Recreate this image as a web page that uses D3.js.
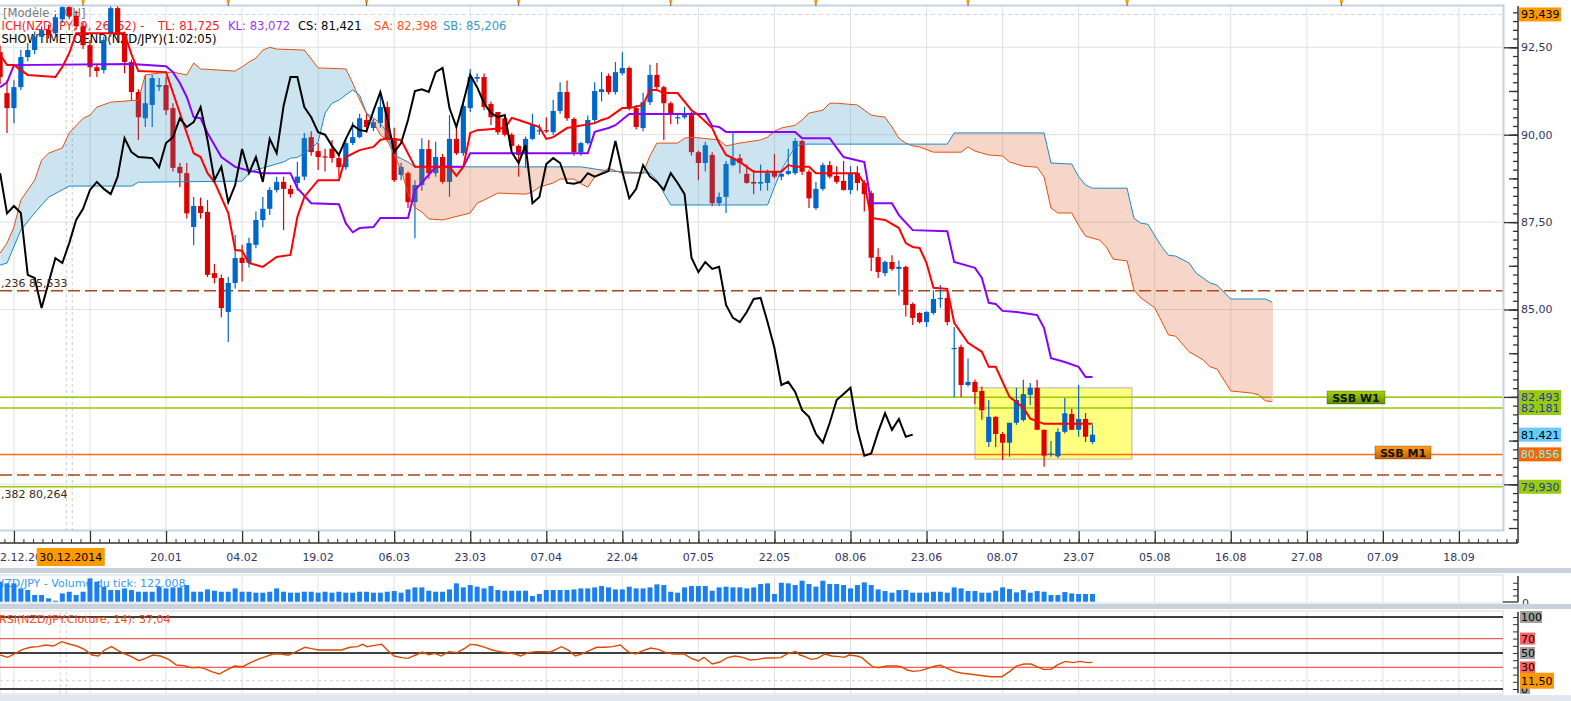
<!DOCTYPE html>
<html><head><meta charset="utf-8">
<script src="https://cdn.jsdelivr.net/npm/d3@7"></script>
<style>body{margin:0;background:#fff}svg{display:block;font-family:"DejaVu Sans",sans-serif;font-size:11px}</style>
</head><body><svg id="c" width="1571" height="701"></svg>
<script>
// ---------- DATA ----------
const open = [92.36,91.19,90.76,91.36,92.22,92.42,92.8,93.0,92.9,93.3, 93.65,93.4,93.1,92.56,91.93,91.85,92.91,93.62,92.85,92.08, 91.22,90.47,90.85,91.37,91.42,90.76,89.08,88.9,87.36,87.96, 87.79,86.04,85.9,84.93,85.76,86.48,86.33,86.85,87.56,87.88, 88.42,88.65,88.45,88.62,88.8,89.93,89.53,89.38,89.6,89.33, 89.07,89.76,89.93,90.42,90.19,90.33,90.79,89.9,88.85,88.9, 88.07,88.56,89.59,88.9,89.36,88.65,89.88,89.47,90.76,91.6, 91.65,90.88,90.65,90.47,90.0,89.68,89.47,89.88,90.1,90.13, 90.07,90.68,91.22,90.45,89.5,89.76,90.42,91.22,91.68,91.22, 91.76,91.91,90.76,90.19,90.93,91.71,91.36,90.9,90.47,90.5, 90.56,89.5,89.19,89.42,88.04,88.22,89.13,89.33,88.88,88.65, 88.6,88.62,88.94,88.8,88.88,88.9,89.82,88.94,87.9,88.45, 89.13,88.82,88.68,88.42,88.9,88.62,88.33,86.5,86.04,86.36, 86.16,86.22,85.16,84.9,84.64,84.9,85.3,85.33,83.87,83.93, 82.84,82.93,82.67,81.21,81.93,81.44,81.19,81.76,81.84,82.56, 82.76,81.56,80.85,80.8,81.5,82.01,81.56,81.87,81.21];
const high = [92.55,91.56,91.56,92.42,92.62,92.95,93.1,93.15,93.45,93.75, 93.75,93.55,93.2,92.71,92.0,92.8,93.7,93.75,92.95,92.15, 91.3,91.7,91.71,91.62,91.65,90.9,89.2,89.19,88.22,88.2, 88.13,86.3,86.0,85.93,87.13,86.85,87.05,87.8,88.22,88.5, 88.8,88.8,88.56,89.22,90.05,90.1,89.76,89.6,89.85,89.45, 89.85,90.36,90.6,90.6,90.45,91.19,90.95,90.2,89.2,88.95, 88.7,89.9,89.85,89.8,89.45,90.56,90.3,90.99,91.88,91.75, 91.75,90.95,90.65,90.5,90.05,89.72,89.95,90.6,90.3,90.5, 91.0,91.5,91.55,90.5,89.8,90.55,91.5,91.79,91.75,92.08, 92.36,91.95,90.85,91.2,92.0,92.05,91.4,90.95,90.62,90.8, 90.65,89.55,89.8,89.5,88.35,89.25,90.05,89.45,89.15,89.0, 89.15,89.0,89.45,88.9,89.6,89.9,89.85,89.0,88.65,89.2, 89.25,89.1,89.25,89.1,89.1,88.7,88.4,86.75,86.4,86.55, 86.4,86.25,85.2,84.92,84.95,85.55,85.7,85.6,84.5,84.0, 83.6,83.0,82.8,82.41,81.95,81.5,81.76,82.76,82.99,82.9, 82.99,81.56,81.24,81.6,82.47,82.16,82.84,82.04,81.7];
const low = [91.45,90.05,90.33,91.28,92.1,92.3,92.7,92.75,92.8,93.2, 93.3,93.0,92.45,91.65,91.65,91.75,92.8,92.7,91.76,90.99, 89.85,90.22,90.22,91.25,90.56,88.95,88.5,87.6,86.84,87.6, 85.93,85.75,84.78,84.07,85.6,85.8,86.2,86.75,87.35,87.7, 88.35,87.27,88.2,88.4,88.7,89.4,88.99,88.95,89.2,88.8, 89.0,89.7,89.9,90.05,90.1,90.2,89.8,88.65,88.7,87.9, 87.04,88.4,88.75,88.8,88.6,88.22,89.42,89.4,90.65,91.5, 90.7,90.28,90.0,89.95,89.6,88.8,89.05,89.85,90.0,90.05, 90.0,90.6,90.4,89.4,89.4,89.72,90.3,90.95,91.15,91.15, 91.7,90.7,90.15,90.1,90.85,91.3,89.85,90.3,90.3,90.45, 89.4,88.7,88.95,87.95,87.95,87.76,89.1,88.9,88.6,88.3, 88.4,88.4,88.75,88.7,88.85,88.85,88.85,87.9,87.85,88.4, 88.75,88.6,88.4,88.3,88.4,87.8,86.1,85.9,85.95,86.1, 85.4,84.8,84.56,84.6,84.5,84.85,85.05,84.55,82.5,82.5, 82.8,82.3,81.85,81.07,81.07,80.69,80.79,81.7,81.8,82.27, 81.56,80.5,80.79,80.75,81.45,81.56,81.36,81.21,81.15];
const close = [91.65,90.76,91.36,92.22,92.42,92.8,92.99,92.85,93.36,93.65, 93.4,93.1,92.56,91.93,91.82,92.71,93.62,92.85,92.08,91.22, 90.5,90.9,91.62,91.42,90.7,89.05,88.9,87.75,87.96,87.76, 85.99,85.9,85.04,85.76,86.47,86.33,86.9,87.56,87.88,88.42, 88.65,88.45,88.3,88.8,89.9,89.5,89.36,89.35,89.33,89.07, 89.76,89.93,90.47,90.22,90.36,90.79,89.85,88.7,89.08,88.07, 88.56,89.59,88.9,89.36,88.65,89.88,89.47,90.82,91.65,91.65, 90.79,90.5,90.07,90.0,89.68,89.42,89.88,90.27,90.13,90.1, 90.68,91.22,90.47,89.5,89.76,90.42,91.25,91.3,91.22,91.79, 91.91,90.76,90.22,90.93,91.71,91.36,90.9,90.62,90.5,90.56, 89.5,89.19,89.7,88.04,88.22,89.16,89.33,89.19,88.62,88.6, 88.65,88.9,88.8,88.88,88.96,89.82,88.94,88.18,88.45,89.13, 88.8,88.65,88.42,88.9,88.62,88.3,86.48,86.07,86.36,86.16, 86.22,85.13,84.76,84.64,84.93,85.3,85.33,84.64,83.9,82.84, 82.93,82.64,82.12,81.93,81.44,81.19,81.76,82.41,82.58,82.76, 81.56,80.82,80.88,81.5,82.03,81.56,81.87,81.36,81.42];

// Ichimoku lines as [bar, price] vertices
const tenkan = [[0,92.3],[1,91.99],[2,91.99],[4,91.71],[8,91.65],[9,91.94],[10,92.33],[11,92.9],[18,92.9],[19,92.3],[20,91.82],[24,91.79],[26,90.62],[28,89.47],[29,89.36],[30,88.9],[31,88.65],[33,87.76],[34,86.7],[35,86.68],[36,86.33],[38,86.22],[40,86.5],[42,86.56],[43,87.65],[44,88.22],[46,88.7],[49,88.7],[50,89.36],[52,89.56],[54,89.65],[55,89.85],[56,89.9],[58,89.85],[60,89.08],[65,89.08],[66,88.82],[67,89.08],[68,90.05],[69,90.13],[73,90.19],[74,90.48],[75,90.42],[78,90.22],[79,89.88],[80,89.93],[82,90.19],[86,90.33],[87,90.42],[88,90.48],[90,90.76],[91,90.76],[93,90.85],[94,91.28],[95,91.28],[96,91.19],[98,91.19],[100,90.7],[101,90.56],[103,90.19],[104,89.76],[105,89.42],[106,89.33],[107,89.22],[108,89.08],[109,88.94],[113,88.94],[114,89.13],[115,89.08],[117,89.08],[118,88.9],[124,88.9],[125,88.6],[126,87.62],[128,87.56],[130,87.33],[131,86.9],[132,86.79],[133,86.76],[134,86.33],[135,85.62],[137,85.59],[138,84.62],[140,84.05],[142,83.79],[143,83.36],[144,83.36],[146,82.5],[148,82.19],[149,81.88],[151,81.73],[158,81.73]];
const kijun = [[0,91.36],[1,91.5],[2,91.99],[19,92.02],[24,91.96],[25,91.79],[26,91.48],[27,91.08],[28,90.5],[29,90.47],[30,90.05],[32,89.36],[34,89.08],[36,88.97],[38,88.9],[42,88.9],[43,88.47],[45,88.04],[49,88.01],[50,87.47],[51,87.21],[52,87.33],[54,87.36],[55,87.62],[59,87.62],[60,88.42],[61,88.62],[63,89.08],[67,89.08],[68,89.47],[85,89.47],[86,90.08],[88,90.19],[89,90.27],[91,90.59],[102,90.59],[103,90.25],[104,90.22],[105,90.08],[115,90.08],[116,89.9],[120,89.9],[121,89.62],[122,89.36],[125,89.22],[126,88.04],[129,88.04],[130,87.7],[132,87.27],[137,87.24],[138,86.36],[141,86.19],[142,85.9],[143,85.19],[144,85.16],[145,84.96],[147,84.93],[149,84.87],[150,84.84],[151,84.47],[152,83.61],[154,83.5],[156,83.36],[157,83.07],[158,83.07]];
const ssa = [[0,86.61],[1,86.9],[2,87.36],[3,88.13],[5,88.7],[6,89.27],[7,89.47],[9,89.62],[10,90.05],[12,90.47],[13,90.56],[14,90.79],[16,90.93],[20,90.99],[21,91.71],[23,91.76],[25,91.79],[27,91.71],[28,92.05],[29,91.88],[34,91.82],[35,91.94],[36,92.08],[37,92.19],[38,92.42],[39,92.5],[40,92.45],[44,92.42],[46,91.91],[50,91.88],[51,91.48],[52,91.0],[53,90.6],[54,90.36],[55,89.99],[56,89.85],[57,89.42],[58,88.99],[59,88.33],[60,87.91],[61,87.79],[62,87.59],[64,87.56],[68,87.76],[69,88.04],[70,88.13],[72,88.33],[76,88.3],[77,88.36],[78,88.5],[80,88.62],[81,88.73],[83,88.73],[84,88.6],[85,88.5],[86,88.79],[88,89.04],[90,88.9],[93,88.9],[94,89.4],[95,89.76],[98,89.76],[99,89.9],[100,89.93],[104,89.85],[105,89.68],[107,89.76],[110,89.85],[111,89.93],[112,90.1],[113,90.19],[115,90.27],[116,90.42],[117,90.62],[119,90.7],[120,90.9],[121,90.9],[124,90.85],[126,90.56],[128,90.5],[129,90.22],[130,89.9],[131,89.76],[132,89.68],[133,89.65],[135,89.5],[139,89.5],[140,89.65],[141,89.53],[143,89.42],[145,89.39],[146,89.22],[148,89.1],[150,89.07],[151,88.79],[152,87.9],[153,87.76],[155,87.76],[156,87.4],[157,87.1],[158,87.04],[159,86.99],[160,86.79],[161,86.44],[163,86.39],[164,85.56],[165,85.33],[167,85.05],[169,84.27],[170,84.24],[172,83.79],[174,83.56],[175,83.36],[176,83.3],[178,82.67],[181,82.61],[182,82.56],[183,82.39],[184,82.36]];
const ssb = [[0,86.27],[1,86.33],[3,87.27],[5,87.76],[7,88.21],[10,88.53],[19,88.53],[20,88.64],[35,88.67],[36,88.9],[37,88.99],[41,89.22],[42,89.33],[43,89.35],[45,89.6],[46,89.79],[47,90.62],[48,90.9],[49,90.99],[51,91.28],[52,91.13],[53,90.62],[55,90.33],[56,90.05],[57,89.42],[59,89.22],[60,89.08],[84,89.08],[88,88.96],[94,88.9],[95,88.7],[96,88.33],[97,87.99],[111,87.99],[112,88.5],[113,88.99],[114,89.33],[115,89.65],[116,89.73],[137,89.73],[138,90.05],[151,90.05],[152,89.19],[155,89.16],[156,88.8],[157,88.56],[158,88.47],[163,88.47],[164,87.61],[165,87.47],[166,87.44],[168,86.8],[169,86.55],[170,86.53],[172,86.33],[173,86.04],[175,85.76],[176,85.7],[177,85.5],[178,85.3],[183,85.3],[184,85.21]];

// volume (thousands of ticks) per bar
const volume = [317,291,291,211,185,106,106,53,16,132, 158,106,158,370,317,238,185,185,211,185, 158,158,158,238,211,227,227,264,158,158, 195,174,158,158,211,158,158,143,143,158, 211,158,143,143,158,158,143,158,143,158, 143,143,158,158,143,143,158,169,143,195, 227,227,174,158,158,195,291,227,264,238, 211,248,185,174,174,174,174,90,122,185, 185,185,185,195,211,211,227,248,227,195, 195,238,211,211,227,275,264,158,143,227, 248,248,248,174,227,238,227,227,211,227, 280,291,122,301,291,264, 333,280,238,333,280,280,264,211,264,306, 264,195,169,143,185,185,143,143,143,158, 158,143,227,211,169,169,143,143,174,227, 201,148,185,143,169,158,106,106,153,132, 122,122,122];

// RSI(14) vertices [bar, value]
const rsi = [[0,47.2],[1.1,44.0],[2.2,49.5],[3.3,55.1],[4.4,57.9],[5.5,58.8],[6.6,61.1],[7.7,59.7],[8.9,65.7],[10,62.5],[11.1,59.7],[12.2,55.1],[13.3,47.2],[14.2,45.8],[15.1,54.2],[16.1,58.8],[17.1,53.2],[18.1,48.6],[19,44.9],[20.1,39.4],[21,42.6],[22.1,47.2],[23.2,45.8],[24.4,41.2],[25.5,33.3],[26.6,32.4],[27.7,29.6],[28.8,30.1],[29.5,28.7],[30.6,24.1],[31.7,20.8],[32.8,26.4],[33.9,31.9],[35.1,31.0],[36.2,36.6],[37.3,41.2],[38.4,44.9],[39.5,48.6],[40.6,48.6],[41.7,46.8],[42.8,51.9],[44.1,57.9],[45,56.0],[46.1,54.2],[47.2,54.2],[48.3,54.2],[49.4,54.2],[50.6,57.9],[51.7,58.8],[52.4,62.0],[53.1,58.8],[54.2,60.6],[55.2,62.0],[56.1,53.2],[57,45.8],[58.1,43.5],[59,42.6],[60.1,47.2],[61.1,51.4],[62,47.7],[62.9,49.5],[63.8,45.8],[64.9,51.9],[66.1,50.5],[67.2,56.5],[68,62.0],[69,61.1],[70.1,57.9],[71.2,54.2],[72.3,51.9],[73.4,50.5],[74.5,48.6],[75.3,45.8],[76.4,50.5],[77.5,51.9],[78.6,51.9],[79.6,51.4],[80.4,55.1],[81.2,58.8],[82.3,53.2],[83.2,45.8],[84.1,48.6],[85.2,53.2],[86.3,57.9],[87.5,57.9],[88.6,58.8],[89.7,61.1],[90.8,51.9],[91.9,48.6],[93,53.2],[94.1,56.9],[95.2,55.1],[96.3,50.5],[97.4,48.6],[98.9,48.6],[100,42.6],[101,38.9],[101.8,44.0],[103,34.7],[104.1,37.5],[105.2,43.5],[106.3,45.8],[107.4,44.0],[108.5,40.3],[109.6,41.2],[110.7,43.1],[111.8,43.1],[112.9,43.5],[114,49.5],[115.1,51.9],[115.7,47.2],[116.4,44.9],[117.3,41.2],[118.2,42.6],[119.3,48.6],[120.3,45.8],[121.4,44.9],[122.1,44.0],[122.8,47.2],[123.9,45.8],[124.6,44.0],[125.3,38.0],[126.2,31.0],[127.1,29.6],[128.2,31.9],[129.6,31.9],[130.3,31.0],[131.2,26.4],[132.1,24.5],[133.1,25.5],[134.2,28.7],[135.3,31.9],[136,32.9],[137,28.7],[138.1,24.1],[139.2,21.8],[140.2,20.8],[141.3,19.4],[142.4,18.1],[143.4,17.1],[144.9,17.1],[146,24.1],[147,31.9],[148.1,34.7],[149.1,34.7],[150.2,30.1],[150.9,27.3],[152,27.3],[153,33.8],[154.1,38.4],[155.2,36.6],[156.2,38.4],[157.3,36.6],[158,37.0]];

// axis ticks / labels (the label under the cursor box is hidden in the reference)
const dateTickBars = [2,13,24,35,46,57,68,79,90,101,112,123,134,145,156,167,178,189,200,211];
const dateLabels = ["22.12.2014","","20.01","04.02","19.02","06.03","23.03","07.04","22.04","07.05","22.05","08.06","23.06","08.07","23.07","05.08","16.08","27.08","07.09","18.09"];
const cursorBar = 10, cursorLabel = "30.12.2014";
const monthStartBars = [12,33,53,75,97,118,140,163,194];
const priceMajor = [80,82.5,85,87.5,90,92.5];
const priceLabelled = [85,87.5,90,92.5];
const topPrice = 93.439;
const fibLevels = [85.533, 80.264];
const fibLabels = [",236 85,533", ",382 80,264"];
const greenLevels = [82.493, 82.181, 79.930];
const orangeLevel = 80.856;
const lastClose = 81.421;
const zone = {from:141, to:163.7, hi:82.76, lo:80.72};
const rsiLevels = [100,70,50,30,11.5,0];
const volTicks = [100,200,300];
const legend = {model:"[Modèle : ICH]", ich:"ICH(NZD/JPY, 9, 26, 52) -", tl:"TL: 81,725", kl:"KL: 83,072", cs:"CS: 81,421", sa:"SA: 82,398", sb:"SB: 85,206", timer:"SHOWTIMETOEND(NZD/JPY)(1:02:05)"};

// ---------- DRAW ----------
const svg = d3.select('#c');
const Lx=0, Rx=1503, T=6, B=530, AX=1518;
const x = d3.scaleLinear().domain([0,211]).range([0.1,1458.9]);
const y = d3.scaleLinear().domain([78.693,93.681]).range([B,T]);
const yV = d3.scaleLinear().domain([0,428]).range([601.7,574.7]);
const yR = d3.scaleLinear().domain([0,100]).range([689,617]);
const loc = d3.formatLocale({decimal:",",thousands:".",grouping:[3],currency:["",""]});
const f2 = loc.format(".2f"), f3 = loc.format(".3f");
const axisCol = "#333366";

svg.append('rect').attr('width',1571).attr('height',701).attr('fill','#fff');
const defs = svg.append('defs');
defs.append('clipPath').attr('id','mainClip').append('rect').attr('x',Lx).attr('y',T).attr('width',Rx-Lx).attr('height',B-T);
function grad(id,c1,c2){const g=defs.append('linearGradient').attr('id',id).attr('x1',0).attr('x2',0).attr('y1',0).attr('y2',1);
 g.append('stop').attr('offset','0%').attr('stop-color',c1);g.append('stop').attr('offset','100%').attr('stop-color',c2);}
grad('gGreen','#a6d600','#5f8f00'); grad('gOrange','#ffa11a','#c85f00');

// bands / panels
svg.append('rect').attr('x',0).attr('y',568).attr('width',1571).attr('height',5).attr('fill','#c9d1db');
svg.append('rect').attr('x',0).attr('y',695).attr('width',1571).attr('height',6).attr('fill','#e3e7ef');

// grid main
const main = svg.append('g');
main.selectAll('.vg').data(dateTickBars).join('line').attr('x1',d=>x(d)).attr('x2',d=>x(d)).attr('y1',T).attr('y2',B).attr('stroke','#e1e1e1');
main.selectAll('.hg').data(priceMajor).join('line').attr('x1',Lx).attr('x2',Rx).attr('y1',d=>y(d)).attr('y2',d=>y(d)).attr('stroke','#e1e1e1');
main.append('line').attr('x1',Lx).attr('x2',Rx).attr('y1',y(topPrice)).attr('y2',y(topPrice)).attr('stroke','#d6d6d6').attr('stroke-dasharray','4,3');

// legend (under the marks)
const lgF = '11.6px';
main.append('text').attr('x',3).attr('y',17).attr('fill','#7a7a7a').style('font-size',lgF).text(legend.model);
const lg = main.append('text').attr('y',30).style('font-size',lgF);
lg.append('tspan').attr('x',1.5).attr('fill','#ff1a1a').text(legend.ich);
lg.append('tspan').attr('x',158).attr('fill','#ff1a1a').text(legend.tl);
lg.append('tspan').attr('x',228).attr('fill','#9933ff').text(legend.kl);
lg.append('tspan').attr('x',298).attr('fill','#000').text(legend.cs);
lg.append('tspan').attr('x',374).attr('fill','#ff5522').text(legend.sa);
lg.append('tspan').attr('x',443).attr('fill','#3399cc').text(legend.sb);
main.append('text').attr('x',1.5).attr('y',43).attr('fill','#000').style('font-size',lgF).text(legend.timer);

// cursor dashed lines
[-3,3].forEach(o=>{
 main.append('line').attr('x1',x(cursorBar)+o).attr('x2',x(cursorBar)+o).attr('y1',T).attr('y2',B).attr('stroke','#c8c8c8').attr('stroke-dasharray','3,3');
});

const plot = svg.append('g').attr('clip-path','url(#mainClip)');
// zone
plot.append('rect').attr('x',x(zone.from)).attr('y',y(zone.hi)).attr('width',x(zone.to)-x(zone.from)).attr('height',y(zone.lo)-y(zone.hi))
 .attr('fill','#ffff80').attr('stroke','#b4b4b4');
// horizontal levels
plot.selectAll('.fib').data(fibLevels).join('line').attr('x1',Lx).attr('x2',Rx).attr('y1',d=>y(d)).attr('y2',d=>y(d))
 .attr('stroke','#a8461c').attr('stroke-width',1.5).attr('stroke-dasharray','12,5');
plot.selectAll('.grn').data(greenLevels).join('line').attr('x1',Lx).attr('x2',Rx).attr('y1',d=>y(d)).attr('y2',d=>y(d))
 .attr('stroke','#99cc00').attr('stroke-width',1.5);
plot.append('line').attr('x1',Lx).attr('x2',Rx).attr('y1',y(orangeLevel)).attr('y2',y(orangeLevel)).attr('stroke','#ff6a10').attr('stroke-width',1.5);

// candles
const idx = d3.range(close.length);
const col = i => close[i] >= open[i] ? '#0066cc' : '#e00000';
plot.selectAll('.wick').data(idx).join('line').attr('x1',i=>x(i)).attr('x2',i=>x(i)).attr('y1',i=>y(high[i])).attr('y2',i=>y(low[i]))
 .attr('stroke',col).attr('stroke-width',1.2);
plot.selectAll('.body').data(idx).join('rect').attr('x',i=>x(i)-2.6).attr('width',5.2)
 .attr('y',i=>y(Math.max(open[i],close[i]))).attr('height',i=>Math.max(1.2,Math.abs(y(open[i])-y(close[i])))).attr('fill',col);

// cloud
const toBottom = d3.area().x(d=>x(d[0])).y0(B+60).y1(d=>y(d[1]));
const toTop = d3.area().x(d=>x(d[0])).y0(T-60).y1(d=>y(d[1]));
defs.append('clipPath').attr('id','clipA').append('path').attr('d',toBottom(ssa));
defs.append('clipPath').attr('id','clipB').append('path').attr('d',toBottom(ssb));
plot.append('g').attr('clip-path','url(#clipA)').append('path').attr('d',toTop(ssb)).attr('fill','rgb(51,147,195)').attr('fill-opacity',0.25);
plot.append('g').attr('clip-path','url(#clipB)').append('path').attr('d',toTop(ssa)).attr('fill','rgb(215,90,35)').attr('fill-opacity',0.25);
const ln = d3.line().x(d=>x(d[0])).y(d=>y(d[1]));
plot.append('path').attr('d',ln(ssa)).attr('fill','none').attr('stroke','#e4500e').attr('stroke-width',1);
plot.append('path').attr('d',ln(ssb)).attr('fill','none').attr('stroke','#1a8acb').attr('stroke-width',1);
plot.append('line').attr('x1',x(ssa[ssa.length-1][0])).attr('x2',x(ssb[ssb.length-1][0])).attr('y1',y(ssa[ssa.length-1][1])).attr('y2',y(ssb[ssb.length-1][1])).attr('stroke','#f0c8b8');
plot.append('path').attr('d',ln(kijun)).attr('fill','none').attr('stroke','#8a00ff').attr('stroke-width',2);
plot.append('path').attr('d',ln(tenkan)).attr('fill','none').attr('stroke','#ff0000').attr('stroke-width',2);
const chikou = close.slice(26).map((c,k)=>[k,c]);
plot.append('path').attr('d',ln(chikou)).attr('fill','none').attr('stroke','#000').attr('stroke-width',2);

// fib labels
fibLevels.forEach((v,k)=>{
 svg.append('text').attr('x',1).attr('y',k===0? y(v)-4 : y(v)+23).attr('fill','#3c2814').text(fibLabels[k]);
});
// SSB tags
function tag(x0,y0,w,fill,txt){
 svg.append('rect').attr('x',x0).attr('y',y0).attr('width',w).attr('height',13).attr('fill',fill).attr('stroke','rgba(0,0,0,0.25)');
 svg.append('text').attr('x',x0+w/2).attr('y',y0+10.5).attr('text-anchor','middle').attr('font-weight','bold').attr('fill','#111').text(txt);
}
tag(1327,391,58,'url(#gGreen)','SSB W1');
tag(1375,446,56,'url(#gOrange)','SSB M1');

// main border
svg.append('line').attr('x1',0).attr('x2',Rx+1).attr('y1',T-0.5).attr('y2',T-0.5).attr('stroke','#c8d2dd').attr('stroke-width',2);
svg.append('line').attr('x1',Rx+0.5).attr('x2',Rx+0.5).attr('y1',T-1.5).attr('y2',B+1).attr('stroke','#c8d2dd').attr('stroke-width',2);
svg.append('line').attr('x1',0).attr('x2',Rx+1).attr('y1',B+0.5).attr('y2',B+0.5).attr('stroke','#c8d2dd').attr('stroke-width',2);
// month markers
monthStartBars.forEach(b=>{
 svg.append('rect').attr('x',x(b)-1.5).attr('y',0).attr('width',3).attr('height',3).attr('fill','#ff9900');
 svg.append('line').attr('x1',x(b)).attr('x2',x(b)).attr('y1',3).attr('y2',6).attr('stroke','#555');
});

// right price axis
const pa = svg.append('g').attr('transform',`translate(${AX},0)`);
pa.call(d3.axisLeft(y).tickValues(d3.range(79,93.6,0.25)).tickSize(5).tickSizeOuter(0).tickFormat(''));
pa.call(g=>g.select('.domain').remove());
const pm = svg.append('g').attr('transform',`translate(${AX},0)`);
pm.call(d3.axisLeft(y).tickValues(d3.range(78.75,93.6,1.25)).tickSize(9).tickSizeOuter(0).tickFormat(''));
pm.call(g=>g.select('.domain').remove());
const pM = svg.append('g').attr('transform',`translate(${AX},0)`);
pM.call(d3.axisLeft(y).tickValues(priceMajor).tickSize(14).tickSizeOuter(0).tickFormat(''));
pM.call(g=>g.select('.domain').remove());
svg.selectAll('.tick line').attr('stroke','#333').attr('stroke-width',1.3);
svg.append('line').attr('x1',AX).attr('x2',AX).attr('y1',T).attr('y2',543).attr('stroke','#333').attr('stroke-width',1.5);
svg.selectAll('.plab').data(priceLabelled).join('text').attr('x',AX+3).attr('y',d=>y(d)+4).attr('fill',axisCol).text(d=>f2(d));

function badge(v,txt,bg,fg,w){
 const yc=y(v);
 svg.append('rect').attr('x',AX+1).attr('y',yc-7).attr('width',w||42).attr('height',14).attr('fill',bg);
 svg.append('text').attr('x',AX+3).attr('y',yc+4).attr('fill',fg).text(txt);
}
badge(topPrice,f3(topPrice),'#ff9900','#000');
badge(greenLevels[0],f3(greenLevels[0]),'#99cc00','#2233cc');
badge(greenLevels[1],f3(greenLevels[1]),'#99cc00','#2233cc');
badge(lastClose,f3(lastClose),'#66ccff','#000');
badge(orangeLevel,f3(orangeLevel),'#ff6600','#66ffff');
badge(greenLevels[2],f3(greenLevels[2]),'#99cc00','#2233cc');

// bottom date axis
const da = svg.append('g').attr('transform','translate(0,543)');
da.call(d3.axisTop(x).tickValues(d3.range(0.625,219.5,1.375)).tickSize(4).tickSizeOuter(0).tickFormat(''));
da.call(g=>g.select('.domain').remove());
const dM = svg.append('g').attr('transform','translate(0,543)');
dM.call(d3.axisTop(x).tickValues(dateTickBars).tickSize(12).tickSizeOuter(0).tickFormat(''));
dM.call(g=>g.select('.domain').remove());
da.selectAll('line').attr('stroke','#333');
dM.selectAll('line').attr('stroke','#333').attr('stroke-width',1.3);
svg.append('line').attr('x1',0).attr('x2',AX).attr('y1',543).attr('y2',543).attr('stroke','#333').attr('stroke-width',1.5);
svg.selectAll('.dlab').data(dateTickBars).join('text')
 .attr('x',(d,k)=>k===0 ? -7 : x(d)).attr('y',561).attr('text-anchor',(d,k)=>k===0?'start':'middle').attr('fill',axisCol).text((d,k)=>dateLabels[k]);
svg.append('rect').attr('x',x(cursorBar)-32.5).attr('y',548).attr('width',68).attr('height',18).attr('fill','#ff9900');
svg.append('text').attr('x',x(cursorBar)+1.5).attr('y',561).attr('text-anchor','middle').attr('fill','#000').text(cursorLabel);

// volume panel
const vp = svg.append('g');
vp.append('rect').attr('x',0).attr('y',575).attr('width',Rx).attr('height',28).attr('fill','#fff').attr('stroke','#d3dae3');
vp.selectAll('.vg').data(dateTickBars).join('line').attr('x1',d=>x(d)).attr('x2',d=>x(d)).attr('y1',576).attr('y2',602).attr('stroke','#e1e1e1');
vp.append('text').attr('x',-4).attr('y',587).attr('fill','#3399ff').text('NZD/JPY - Volume du tick: 122.008');
vp.selectAll('.vb').data(idx).join('rect').attr('x',i=>x(i)-2.5).attr('width',5).attr('y',i=>yV(volume[i])).attr('height',i=>yV(0)-yV(volume[i])).attr('fill','#1a80f2');
const va = svg.append('g').attr('transform',`translate(${AX},0)`);
va.call(d3.axisLeft(yV).tickValues(volTicks).tickSize(5).tickSizeOuter(0).tickFormat(''));
va.call(g=>g.select('.domain').remove());
va.selectAll('line').attr('stroke','#333');
svg.append('line').attr('x1',AX).attr('x2',AX).attr('y1',576).attr('y2',602).attr('stroke','#333').attr('stroke-width',1.5);
svg.append('line').attr('x1',Rx).attr('x2',AX).attr('y1',602).attr('y2',602).attr('stroke','#333').attr('stroke-width',1.3);
svg.append('text').attr('x',AX+4).attr('y',607).attr('fill',axisCol).text('0');
svg.append('rect').attr('x',0).attr('y',604).attr('width',1571).attr('height',5).attr('fill','#c9d1db');

// RSI panel
const rp = svg.append('g');
rp.append('rect').attr('x',0).attr('y',611).attr('width',Rx).attr('height',83).attr('fill','#fff').attr('stroke','#d3dae3');
rp.selectAll('.vg').data(dateTickBars).join('line').attr('x1',d=>x(d)).attr('x2',d=>x(d)).attr('y1',612).attr('y2',693).attr('stroke','#e1e1e1');
[-3,3].forEach(o=>{
 rp.append('line').attr('x1',x(cursorBar)-6+o).attr('x2',x(cursorBar)-6+o).attr('y1',612).attr('y2',693).attr('stroke','#d0d0d0').attr('stroke-dasharray','3,3');
});
const lvlStyle = {100:['#000',1.5,null],70:['#ff5a5a',1.2,null],50:['#000',1.5,null],30:['#ff5a5a',1.2,null],11.5:['#d0d0d0',1,'3,3'],0:['#000',1.5,null]};
rsiLevels.forEach(v=>{
 const s=lvlStyle[v];
 rp.append('line').attr('x1',0).attr('x2',Rx).attr('y1',yR(v)).attr('y2',yR(v)).attr('stroke',s[0]).attr('stroke-width',s[1]).attr('stroke-dasharray',s[2]);
});
rp.append('text').attr('x',-1).attr('y',623).attr('fill','#ff4411').text('RSI(NZD/JPY.Cloture, 14): 37,04');
rp.append('path').attr('d',d3.line().x(d=>x(d[0])).y(d=>yR(d[1]))(rsi)).attr('fill','none').attr('stroke','#e04800').attr('stroke-width',1.4);
const ra = svg.append('g').attr('transform',`translate(${AX},0)`);
ra.call(d3.axisLeft(yR).tickValues(d3.range(0,101,10)).tickSize(5).tickSizeOuter(0).tickFormat(''));
ra.call(g=>g.select('.domain').remove());
ra.selectAll('line').attr('stroke','#333');
svg.append('line').attr('x1',AX).attr('x2',AX).attr('y1',612).attr('y2',693).attr('stroke','#333').attr('stroke-width',1.5);
function rbadge(v,txt,bg,w,h){
 const yc=yR(v);
 svg.append('rect').attr('x',AX+2).attr('y',yc-(h||12)/2).attr('width',w).attr('height',h||12).attr('fill',bg);
 svg.append('text').attr('x',AX+3).attr('y',yc+4).attr('fill','#000').text(txt);
}
rbadge(0,'0','#a0a0a0',10,10);
rbadge(100,'100','#a0a0a0',22);
rbadge(70,'70','#ff6060',15);
rbadge(50,'50','#a0a0a0',15);
rbadge(30,'30','#ff6060',15);
rbadge(11.5,'11,50','#ff9900',34,16);
</script></body></html>
